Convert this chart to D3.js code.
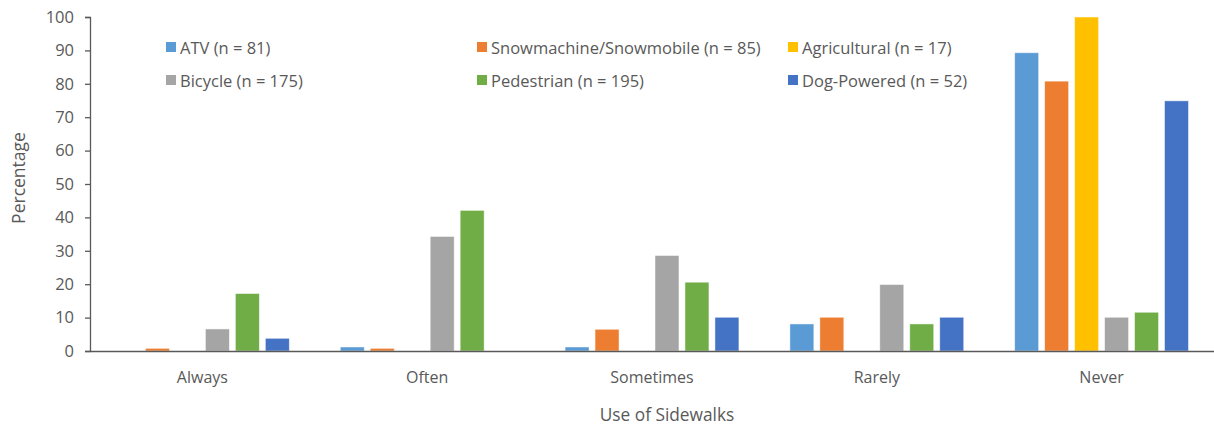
<!DOCTYPE html>
<html>
<head>
<meta charset="utf-8">
<script src="https://cdn.jsdelivr.net/npm/d3@7"></script>
<style>
  html, body { margin: 0; padding: 0; background: #fff; }
  svg { display: block; }
  text { font-family: "Open Sans", Lato, sans-serif; fill: #595959; }
</style>
</head>
<body>
<svg id="chart" width="1214" height="427"></svg>
<script>
// Response categories along the x axis
const categories = ["Always", "Often", "Sometimes", "Rarely", "Never"];

// Series labels (legend order, left-to-right then top-to-bottom)
const seriesNames = [
  "ATV (n = 81)",
  "Snowmachine/Snowmobile (n = 85)",
  "Agricultural (n = 17)",
  "Bicycle (n = 175)",
  "Pedestrian (n = 195)",
  "Dog-Powered (n = 52)"
];
const seriesColors = ["#5B9BD5", "#ED7D31", "#FFC000", "#A5A5A5", "#70AD47", "#4472C4"];

// Percentage of respondents per category, one array per series
const atv          = [0,   1.2, 1.2,  8.1,  89.3];
const snowmachine  = [0.8, 0.8, 6.5,  10.1, 80.8];
const agricultural = [0,   0,   0,    0,    100];
const bicycle      = [6.6, 34.3, 28.6, 19.9, 10.1];
const pedestrian   = [17.2, 42.1, 20.6, 8.1, 11.6];
const dogPowered   = [3.8, 0,   10.1, 10.1, 74.9];

const seriesValues = [atv, snowmachine, agricultural, bicycle, pedestrian, dogPowered];
const yTicks = [0, 10, 20, 30, 40, 50, 60, 70, 80, 90, 100];

const svg = d3.select("#chart");
const margin = { left: 90, right: 0, top: 17, bottom: 76 };
const W = 1214, H = 427;
const FONT = "'Open Sans', Lato, sans-serif";

const x = d3.scaleBand()
  .domain(categories)
  .range([margin.left, W - margin.right])
  .paddingInner(0)
  .paddingOuter(0);

const xInner = d3.scaleBand()
  .domain(d3.range(seriesNames.length))
  .range([0, x.bandwidth()])
  .paddingInner(0.2)
  .paddingOuter(0.85);

const y = d3.scaleLinear()
  .domain([0, 100])
  .range([H - margin.bottom, margin.top]);

// Bars
const groups = svg.append("g")
  .selectAll("g")
  .data(categories)
  .join("g")
  .attr("transform", d => `translate(${x(d)},0)`);

groups.selectAll("rect")
  .data((c, ci) => seriesValues.map((vals, si) => ({ si, v: vals[ci] })))
  .join("rect")
  .filter(d => d.v > 0)
  .attr("x", d => xInner(d.si))
  .attr("width", xInner.bandwidth())
  .attr("y", d => y(d.v))
  .attr("height", d => y(0) - y(d.v))
  .attr("fill", d => seriesColors[d.si])
  .attr("stroke", "#ffffff")
  .attr("stroke-opacity", 0.6)
  .attr("stroke-width", 0.8);

// Y axis
const yAxis = svg.append("g")
  .attr("transform", `translate(${margin.left},0)`)
  .call(d3.axisLeft(y).tickValues(yTicks).tickSize(5).tickPadding(11).tickSizeOuter(5));
yAxis.select(".domain").attr("stroke", "#595959").attr("stroke-width", 1.3);
yAxis.selectAll(".tick line").attr("stroke", "#595959").attr("stroke-width", 1.3);
yAxis.selectAll(".tick text")
  .style("font-size", "16.5px")
  .style("font-family", FONT)
  .attr("fill", "#595959");

// X axis
const xAxis = svg.append("g")
  .attr("transform", `translate(0,${y(0)})`)
  .call(d3.axisBottom(x).tickSize(0).tickPadding(21));
xAxis.select(".domain").attr("stroke", "#595959").attr("stroke-width", 1.3);
xAxis.selectAll(".tick text")
  .style("font-size", "16px")
  .style("font-family", FONT)
  .attr("fill", "#595959");

// Axis titles
svg.append("text")
  .attr("x", 667)
  .attr("y", 421)
  .attr("text-anchor", "middle")
  .style("font-size", "17.3px")
  .text("Use of Sidewalks");

svg.append("text")
  .attr("transform", `translate(25,178) rotate(-90)`)
  .attr("text-anchor", "middle")
  .style("font-size", "17.5px")
  .text("Percentage");

// Legend: three columns, two rows
const legend = svg.append("g");
const colX = [166, 477, 788];
const rowY = [47, 80];
seriesNames.forEach((name, i) => {
  const gx = colX[i % 3], gy = rowY[Math.floor(i / 3)];
  legend.append("rect")
    .attr("x", gx).attr("y", gy - 5)
    .attr("width", 10).attr("height", 10)
    .attr("fill", seriesColors[i]);
  legend.append("text")
    .attr("x", gx + 14).attr("y", gy)
    .attr("dominant-baseline", "central")
    .style("font-size", "16.5px")
    .text(name);
});
</script>
</body>
</html>
